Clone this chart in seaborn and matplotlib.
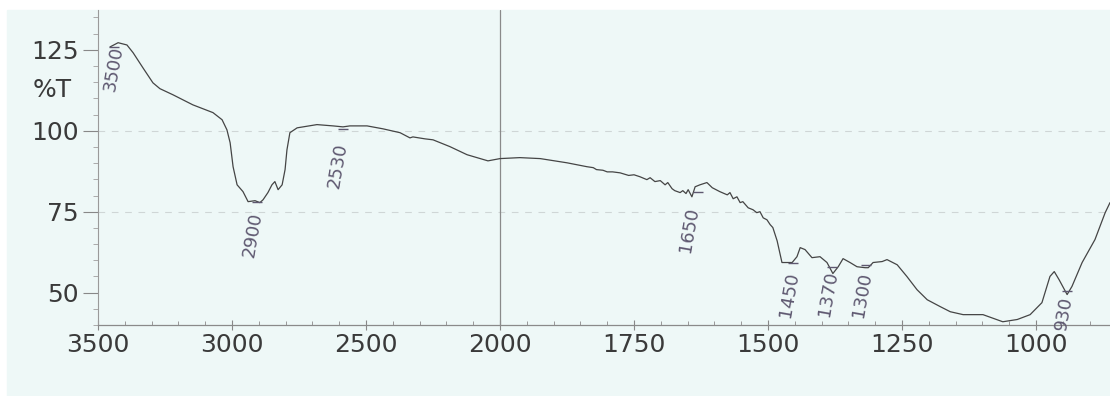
import matplotlib
matplotlib.use("Agg")
import matplotlib.pyplot as plt
import matplotlib.transforms as mtransforms
from matplotlib.patches import Rectangle
from matplotlib.ticker import FixedLocator, MultipleLocator
import numpy as np
import pandas as pd
import seaborn as sns

# IR spectrum (wavenumber in cm-1, transmittance in %T)
wavenumber = [
    3455, 3425, 3392, 3369, 3332, 3295, 3269, 3220, 3146, 3071, 3037, 3019,
    3007, 2996, 2981, 2959, 2940, 2914, 2896, 2884, 2866, 2851, 2840, 2828,
    2813, 2802, 2795, 2784, 2757, 2683, 2623, 2586, 2560, 2496, 2437, 2373,
    2336, 2325, 2280, 2250, 2187, 2123, 2045, 2000, 1963, 1925, 1875, 1838,
    1826, 1820, 1808, 1800, 1790, 1776, 1760, 1750, 1739, 1726, 1720, 1711,
    1701, 1692, 1687, 1679, 1674, 1664, 1659, 1653, 1649, 1642, 1636, 1627,
    1614, 1604, 1590, 1576, 1571, 1565, 1558, 1552, 1547, 1537, 1528, 1521,
    1515, 1509, 1502, 1496, 1491, 1483,
    1474, 1455, 1446, 1440, 1431, 1418, 1403, 1390, 1379,
    1369, 1360, 1347, 1334, 1319, 1313, 1304, 1287, 1278, 1259, 1241, 1222,
    1203, 1179, 1160, 1136, 1099, 1062, 1035, 1011, 989, 974, 966, 957,
    942, 933, 914, 890, 871, 862,
]
transmittance = [
    125.9, 127.2, 126.5, 124.1, 119.4, 114.8, 113.0, 111.1, 108.0, 105.6, 103.4, 100.3,
    96.3, 88.9, 83.3, 81.2, 78.1, 78.4, 77.8, 78.7, 80.9, 83.3, 84.3, 81.8,
    83.3, 88.0, 94.1, 99.4, 100.9, 101.9, 101.5, 101.2, 101.5, 101.5, 100.6, 99.4,
    97.8, 98.1, 97.5, 97.2, 95.1, 92.6, 90.7, 91.4, 91.7, 91.4, 90.1, 88.9,
    88.6, 88.0, 87.8, 87.3, 87.3, 87.0, 86.2, 86.4, 85.8, 84.9, 85.5, 84.3,
    84.6, 83.3, 84.0, 82.1, 81.5, 80.9, 81.5, 80.6, 81.8, 79.6, 82.7, 83.3,
    84.0, 82.4, 81.2, 80.2, 80.9, 79.0, 79.6, 77.8, 78.1, 76.2, 75.6, 74.7,
    75.0, 73.1, 72.5, 71.0, 70.1, 66.0,
    59.3, 59.3, 61.1, 63.9, 63.3, 60.8, 61.1, 59.3, 55.9,
    58.0, 60.5, 59.3, 58.0, 57.7, 57.7, 59.3, 59.6, 60.2, 58.6, 55.0, 50.9,
    47.8, 45.7, 44.1, 43.2, 43.2, 41.0, 41.7, 43.2, 46.9, 55.0, 56.5, 54.0,
    49.4, 51.9, 59.3, 66.4, 74.7, 77.8,
]

# hand-written peak marks on the chart
peak_labels = ["3500", "2900", "2530", "1650", "1450", "1370", "1300", "930"]
peak_x = [3440, 2907, 2585, 1630, 1453, 1381, 1317, 942]
peak_y = [126.0, 78.0, 100.5, 81.0, 59.0, 58.0, 58.5, 50.5]
label_x = [3425, 2907, 2590, 1640, 1453, 1381, 1317, 942]
label_top = [126.0, 74.7, 96.3, 76.5, 56.2, 56.5, 56.2, 48.8]

x_major = [3500, 3000, 2500, 2000, 1750, 1500, 1250, 1000]
y_major = [50, 75, 100, 125]

BG = "#eef8f7"
INK = "#3a3a3a"
PEN = "#5e5870"


def forward(x):
    # chart expands scale by 2x below 2000 cm-1
    x = np.asarray(x, dtype=float)
    return np.where(x > 2000, 2000 + (x - 2000) / 2.0, x)


def inverse(u):
    u = np.asarray(u, dtype=float)
    return np.where(u > 2000, 2000 + (u - 2000) * 2.0, u)


def main():
    sns.set_style("ticks")
    plt.rcParams["font.family"] = ["DejaVu Sans"]

    fig = plt.figure(figsize=(11.10, 3.96), dpi=100, facecolor="white")
    fig.patches.append(Rectangle((7 / 1110, 0), 1, 1 - 10 / 396,
                                 transform=fig.transFigure, color=BG, zorder=-10))
    ax = fig.add_axes([98 / 1110, 1 - 325 / 396, 1 - 98 / 1110, (325 - 10) / 396])
    ax.set_facecolor(BG)

    df = pd.DataFrame({"wn": wavenumber, "T": transmittance})
    ax.set_xscale("function", functions=(forward, inverse))
    sns.lineplot(data=df, x="wn", y="T", ax=ax, estimator=None, sort=False,
                 color="#454545", linewidth=0.9)

    ax.set_xlim(3500, 862)
    ax.set_ylim(40, 137.3)

    for yv in [75, 100]:
        ax.axhline(yv, color="#cfd6d6", linewidth=0.8, linestyle=(0, (6, 6)), zorder=0)
    ax.axvline(2000, color="#8a8a8a", linewidth=0.9, zorder=1)

    minor_x = list(range(3400, 2000, -100)) + list(range(1950, 850, -50))
    ax.xaxis.set_major_locator(FixedLocator(x_major))
    ax.xaxis.set_minor_locator(FixedLocator(minor_x))
    ax.set_xticklabels([str(v) for v in x_major])
    ax.yaxis.set_major_locator(FixedLocator(y_major))
    ax.yaxis.set_minor_locator(MultipleLocator(5))
    ax.set_yticklabels([str(v) for v in y_major])

    ax.tick_params(axis="x", which="major", direction="inout", length=7, width=0.8,
                   color="#888888", labelsize=18, labelcolor=INK, pad=2)
    ax.tick_params(axis="x", which="minor", direction="in", length=3, width=0.7,
                   color="#999999")
    ax.tick_params(axis="y", which="major", direction="out", length=11, width=0.8,
                   color="#888888", labelsize=18, labelcolor=INK, pad=3)
    ax.tick_params(axis="y", which="minor", direction="out", length=3.5, width=0.7,
                   color="#aaaaaa")

    for side in ["top", "right"]:
        ax.spines[side].set_visible(False)
    ax.spines["left"].set_color("#9a9a9a")
    ax.spines["bottom"].set_color("#8a8a8a")
    ax.spines["left"].set_linewidth(0.8)
    ax.spines["bottom"].set_linewidth(0.9)

    ax.set_xlabel("")
    ax.set_ylabel("")
    trans = mtransforms.blended_transform_factory(ax.transAxes, ax.transData)
    ax.text(-0.045, 112.5, "%T", transform=trans, ha="center", va="center",
            fontsize=18, color=INK)

    for lab, px, py, lx, top in zip(peak_labels, peak_x, peak_y, label_x, label_top):
        ax.plot([px], [py], marker="_", markersize=7, color=PEN, mew=1.0)
        ax.text(lx, top, lab, rotation=80, rotation_mode="anchor", ha="right",
                va="center", fontsize=13, color=PEN, clip_on=False)

    fig.savefig("out.png", dpi=100, facecolor=fig.get_facecolor())


if __name__ == "__main__":
    main()
